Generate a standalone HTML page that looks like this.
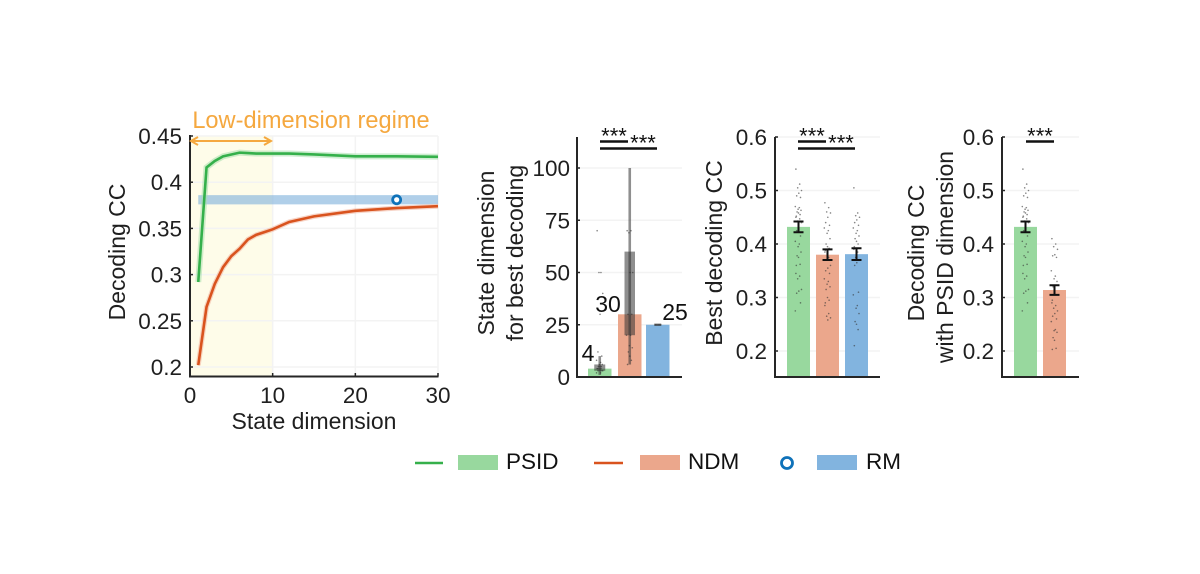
<!DOCTYPE html>
<html lang="en">
<head>
<meta charset="utf-8">
<title>Decoding performance chart</title>
<style>
html,body{margin:0;padding:0;background:#fff;}
body{width:1200px;height:574px;overflow:hidden;}
svg{display:block;font-family:"Liberation Sans",Arial,sans-serif;filter:blur(0.35px);}
svg text{fill:#1f1f1f;}
</style>
</head>
<body>
<svg id="chart" xmlns="http://www.w3.org/2000/svg" width="1200" height="574" viewBox="0 0 1200 574"></svg>
<script>
// ---- Line panel data ----
const psidDims = [1,2,3,4,5,6,7,8,10,12,15,20,25,30];
const psidCurve = [0.292,0.416,0.423,0.428,0.430,0.432,0.4315,0.431,0.431,0.431,0.430,0.428,0.428,0.4275];
const ndmDims = [1,2,3,4,5,6,7,8,9,10,12,15,20,25,30];
const ndmCurve = [0.202,0.265,0.290,0.308,0.320,0.328,0.338,0.343,0.346,0.349,0.357,0.363,0.369,0.372,0.374];
const rmBandRange = [0.376,0.386];
const rmBandDims = [1,30];
const rmPoint = [25,0.381];
const regimeRange = [0,10];
const lineXTicks = [0,10,20,30];
const lineYTicks = [0.2,0.25,0.3,0.35,0.4,0.45];
const lineYLabels = ['0.2','0.25','0.3','0.35','0.4','0.45'];

// ---- Bar panel data ----
const dimBars = [4,30,25];
const dimBarLabels = ['4','30','25'];
const dimBoxLow = [3,20,24.4];
const dimBoxHigh = [6,60,25.6];
const dimWhiskerLow = [1,6,25];
const dimWhiskerHigh = [10,100,25];
const dimTicks = [0,25,50,75,100];
const ccTicks = [0.2,0.3,0.4,0.5,0.6];
const ccTickLabels = ['0.2','0.3','0.4','0.5','0.6'];
const bestBars = [0.432,0.380,0.381];
const bestErr = [0.010,0.010,0.011];
const psidDimBars = [0.432,0.314];
const psidDimErr = [0.010,0.009];

// ---- Per-session scatter values ----
const dimPsidDots = [70,50,50,40,30,12,10,8,7,6,6,5,5,5,4,4,4,4,3,3,3,3,2,2];
const dimNdmDots = [70,70,69,50,50,30,30,20,20,15,14,12,10,8,6];
const dimRmDots = [25,25,25,25,25,25,25];
const psidDots = [0.54,0.512,0.505,0.5,0.495,0.49,0.487,0.47,0.468,0.465,0.463,0.46,0.458,0.455,0.452,0.45,0.447,0.443,0.44,0.43,0.425,0.415,0.405,0.4,0.395,0.385,0.378,0.375,0.362,0.36,0.345,0.34,0.335,0.315,0.312,0.308,0.29,0.275];
const ndmDots = [0.477,0.468,0.46,0.458,0.45,0.44,0.435,0.43,0.425,0.42,0.41,0.4,0.395,0.392,0.388,0.385,0.375,0.37,0.36,0.355,0.35,0.345,0.335,0.33,0.325,0.32,0.315,0.3,0.295,0.29,0.285,0.27,0.265,0.262,0.258,0.152];
const rmDots = [0.505,0.458,0.453,0.45,0.445,0.44,0.435,0.43,0.425,0.42,0.415,0.41,0.405,0.4,0.395,0.39,0.385,0.375,0.37,0.365,0.36,0.31,0.305,0.285,0.28,0.27,0.255,0.25,0.24,0.21];
const ndmLowDots = [0.41,0.4,0.395,0.39,0.38,0.378,0.375,0.35,0.34,0.335,0.33,0.32,0.31,0.305,0.295,0.29,0.285,0.28,0.275,0.27,0.265,0.26,0.255,0.24,0.238,0.235,0.225,0.22,0.205,0.203];

const NS = 'http://www.w3.org/2000/svg';
const svg = document.getElementById('chart');
const GREEN = '#35b04b', ORANGE = '#d9531e', BLUE = '#0f72b9';
const GREEN_BAR = '#98d89e', ORANGE_BAR = '#eba78c', BLUE_BAR = '#82b4df';
const AXIS = '#262626', GRID = '#f3f3f3';

function linear(d0, d1, r0, r1) {
  return v => r0 + (v - d0) * (r1 - r0) / (d1 - d0);
}
function mk(tag, attrs, parent, text) {
  const el = document.createElementNS(NS, tag);
  for (const k in attrs) el.setAttribute(k, attrs[k]);
  if (text !== undefined) el.textContent = text;
  (parent || svg).appendChild(el);
  return el;
}
function off(el) {
  
  return el;
}
function group(parent) {
  return off(mk('g', {}, parent));
}
function lineEl(parent, x1, y1, x2, y2, stroke, w) {
  return off(mk('line', {x1, y1, x2, y2, stroke, 'stroke-width': w}, parent));
}
function rectEl(parent, x0, y0, x1, y1, fill, op) {
  return off(mk('rect', {x: x0, y: y0, width: x1 - x0, height: y1 - y0, fill, 'fill-opacity': op === undefined ? 1 : op}, parent));
}
function textEl(parent, x, y, s, size, anchor, fill) {
  const t = off(mk('text', {x, y, 'font-size': size, 'text-anchor': anchor || 'middle'}, parent, s));
  if (fill) t.setAttribute('style', 'fill:' + fill);
  return t;
}
function rotText(parent, x, y, s, size) {
  const t = off(mk('text', {x, y, 'font-size': size, 'text-anchor': 'middle', transform: 'rotate(-90 ' + x + ' ' + y + ')'}, parent, s));
  return t;
}
const jitter = [-2.6,1.2,-0.8,3,0.3,-1.8,2,-3.2,0.8,-0.4,2.5,-1.4,0,1.6,-2.2];
function drawDots(parent, values, cx, sy) {
  values.forEach((v, i) => {
    const d = off(mk('circle', {cx: cx + jitter[i % jitter.length], cy: sy(v), r: 0.8, fill: '#333', 'fill-opacity': 0.6}, parent));
    
  });
}

/* ========== Panel 1: line chart ========== */
const p1 = group();

const x1 = linear(0, 30, 190, 438);
const y1 = linear(0.2, 0.45, 367, 136);
const regime = rectEl(p1, x1(regimeRange[0]), 136, x1(regimeRange[1]), 376.5, '#fefce9');

lineXTicks.slice(1).forEach(t => {
  const g = lineEl(p1, x1(t), 136, x1(t), 376.5, GRID, 1.5);
  
});
lineYTicks.forEach(t => {
  const g = lineEl(p1, 190, y1(t), 438, y1(t), GRID, 1.5);
  
});
const rmBand = rectEl(p1, x1(rmBandDims[0]), y1(rmBandRange[1]), x1(rmBandDims[1]), y1(rmBandRange[0]), '#7fb2dc', 0.62);


function pathOf(xs, ys, sx, sy) {
  return xs.map((x, i) => (i ? 'L' : 'M') + sx(x).toFixed(2) + ' ' + sy(ys[i]).toFixed(2)).join('');
}
const psidHalo = off(mk('path', {d: pathOf(psidDims, psidCurve, x1, y1), fill: 'none', stroke: '#a6dfab', 'stroke-width': 6, 'stroke-opacity': 0.55}, p1));

const ndmHalo = off(mk('path', {d: pathOf(ndmDims, ndmCurve, x1, y1), fill: 'none', stroke: '#f2b8a2', 'stroke-width': 5, 'stroke-opacity': 0.6}, p1));

const psidLine = off(mk('path', {d: pathOf(psidDims, psidCurve, x1, y1), fill: 'none', stroke: GREEN, 'stroke-width': 2.6}, p1));

const ndmLine = off(mk('path', {d: pathOf(ndmDims, ndmCurve, x1, y1), fill: 'none', stroke: ORANGE, 'stroke-width': 2.6}, p1));

const rmMark = off(mk('circle', {cx: x1(rmPoint[0]), cy: y1(rmPoint[1]), r: 4, fill: '#fff', stroke: BLUE, 'stroke-width': 2.8}, p1));


const yAxis1 = lineEl(p1, 190, 135, 190, 377.5, AXIS, 2);

const xAxis1 = lineEl(p1, 189, 376.5, 438.5, 376.5, AXIS, 2);

lineYTicks.forEach((t, i) => {
  const m = lineEl(p1, 190, y1(t), 193, y1(t), AXIS, 1.5);
  
  const l = textEl(p1, 182, y1(t) + 8, lineYLabels[i], 22.5, 'end');
  
});
lineXTicks.forEach(t => {
  const m = lineEl(p1, x1(t), 376.5, x1(t), 373, AXIS, 1.5);
  
  const l = textEl(p1, x1(t), 403, String(t), 22.5);
  
});
const yTitle1 = rotText(p1, 125, 252, 'Decoding CC', 23);

const xTitle1 = textEl(p1, 314, 429, 'State dimension', 23);

const regimeLabel = textEl(p1, 311, 128, 'Low-dimension regime', 23.6, 'middle', '#f5a83f');

const arrow = off(mk('path', {d: 'M192 141H271M198 137L191 141L198 145M264 137L271 141L264 145', fill: 'none', stroke: '#f5a83f', 'stroke-width': 2}, p1));


/* ========== Shared helpers for bar panels ========== */
function barFrame(parent, axisX, rightX, topY, ticks, labels, sy, labelX) {
  ticks.forEach((t, i) => {
    const g = lineEl(parent, axisX, sy(t), rightX, sy(t), GRID, 1.5);
    
    const m = lineEl(parent, axisX, sy(t), axisX + 3, sy(t), AXIS, 1.5);
    
    const l = textEl(parent, labelX, sy(t) + 8, labels[i], 22.5, 'end');
    
  });
}
function barAxes(parent, axisX, rightX, topY) {
  const a = lineEl(parent, axisX, topY, axisX, 378, AXIS, 2);
  
  const b = lineEl(parent, axisX - 1, 377, rightX, 377, AXIS, 2);
  
}
function sigBar(parent, x0, x1v, y) {
  const s = lineEl(parent, x0, y, x1v, y, '#111', 2.6);
  
}
function sigStars(parent, cx, y) {
  const s = textEl(parent, cx, y, '***', 22, 'middle', '#111');
  
}
function errorBar(parent, cx, sy, val, err) {
  const top = sy(val + err), bot = sy(val - err);
  const e = off(mk('path', {d: 'M' + (cx - 5) + ' ' + top + 'H' + (cx + 5) + 'M' + cx + ' ' + top + 'V' + bot + 'M' + (cx - 5) + ' ' + bot + 'H' + (cx + 5), fill: 'none', stroke: '#111', 'stroke-width': 2}, parent));
  
}

/* ========== Panel 2: state dimension ========== */
const p2 = group();

const y2 = linear(0, 100, 377, 168);
const bar2Left = [588, 618, 646];
const bar2Colors = [GREEN_BAR, ORANGE_BAR, BLUE_BAR];
const bar2W = 23.5;
const box2W = [11, 10.5, 7];
const dim2Dots = [dimPsidDots, dimNdmDots, dimRmDots];
barFrame(p2, 577, 682, 137, dimTicks, dimTicks.map(String), y2, 570);
dimBars.forEach((v, i) => {
  const b = rectEl(p2, bar2Left[i], y2(v), bar2Left[i] + bar2W, 377, bar2Colors[i]);
  
  const cx = bar2Left[i] + bar2W / 2;
  const w = lineEl(p2, cx, y2(dimWhiskerLow[i]), cx, y2(dimWhiskerHigh[i]), '#333', 2.6);
  w.setAttribute('stroke-opacity', '0.55');
  
  const bx = rectEl(p2, cx - box2W[i] / 2, y2(dimBoxHigh[i]), cx + box2W[i] / 2, y2(dimBoxLow[i]), '#333', 0.55);
  
  drawDots(p2, dim2Dots[i], cx, y2);
});
barAxes(p2, 577, 682, 137);
const dimLabelX = [588, 608, 675];
const dimLabelY = [361, 312, 320];
dimBarLabels.forEach((s, i) => {
  const t = textEl(p2, dimLabelX[i], dimLabelY[i], s, 23, 'middle', '#111');
  
});
sigBar(p2, 600, 628, 141.5);
sigBar(p2, 600, 657, 148.5);
sigStars(p2, 614, 143.5);
sigStars(p2, 643, 150.5);
const t2a = rotText(p2, 494, 253, 'State dimension', 23);

const t2b = rotText(p2, 523, 253, 'for best decoding', 23);


/* ========== Panel 3: best decoding ========== */
const p3 = group();

const y3 = linear(0.2, 0.6, 351, 137);
const bar3Left = [787, 816, 845];
const bar3Dots = [psidDots, ndmDots, rmDots];
barFrame(p3, 775, 880, 137, ccTicks, ccTickLabels, y3, 767);
bestBars.forEach((v, i) => {
  const b = rectEl(p3, bar3Left[i], y3(v), bar3Left[i] + 23, 377, bar2Colors[i]);
  
  drawDots(p3, bar3Dots[i], bar3Left[i] + 11.5, y3);
  errorBar(p3, bar3Left[i] + 11.5, y3, v, bestErr[i]);
});
barAxes(p3, 775, 880, 137);
sigBar(p3, 798, 826, 141.5);
sigBar(p3, 798, 855, 148.5);
sigStars(p3, 812, 143.5);
sigStars(p3, 841, 150.5);
const t3 = rotText(p3, 722, 253, 'Best decoding CC', 23);


/* ========== Panel 4: decoding at PSID dimension ========== */
const p4 = group();

const bar4Left = [1014, 1043];
const bar4Dots = [psidDots, ndmLowDots];
barFrame(p4, 1002, 1079, 137, ccTicks, ccTickLabels, y3, 994);
psidDimBars.forEach((v, i) => {
  const b = rectEl(p4, bar4Left[i], y3(v), bar4Left[i] + 23, 377, bar2Colors[i]);
  
  drawDots(p4, bar4Dots[i], bar4Left[i] + 11.5, y3);
  errorBar(p4, bar4Left[i] + 11.5, y3, v, psidDimErr[i]);
});
barAxes(p4, 1002, 1079, 137);
sigBar(p4, 1026, 1054, 141.5);
sigStars(p4, 1040, 143.5);
const t4a = rotText(p4, 924, 253, 'Decoding CC', 23);

const t4b = rotText(p4, 953, 257, 'with PSID dimension', 23);


/* ========== Legend ========== */
const lg = group();

const l1 = lineEl(lg, 415, 463, 443, 463, GREEN, 2.6);

const r1 = rectEl(lg, 458, 455, 498, 470, GREEN_BAR);

const s1 = textEl(lg, 506, 469, 'PSID', 22.5, 'start', '#111');

const l2 = lineEl(lg, 594, 463, 623, 463, ORANGE, 2.6);

const r2 = rectEl(lg, 640, 455, 680, 470, ORANGE_BAR);

const s2 = textEl(lg, 688, 469, 'NDM', 22.5, 'start', '#111');

const c3 = off(mk('circle', {cx: 787, cy: 463, r: 5.5, fill: '#fff', stroke: BLUE, 'stroke-width': 2.8}, lg));

const r3 = rectEl(lg, 817, 455, 857, 470, BLUE_BAR);

const s3 = textEl(lg, 866, 469, 'RM', 22.5, 'start', '#111');

</script>
</body>
</html>
